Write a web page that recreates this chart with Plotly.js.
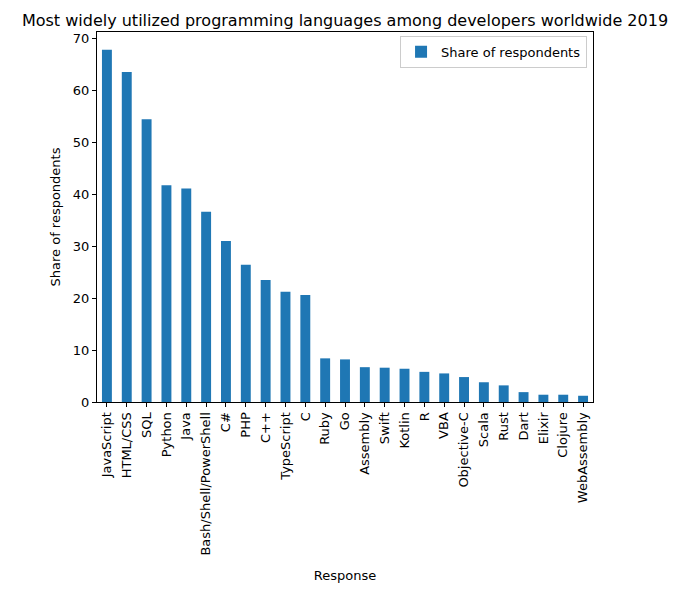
<!DOCTYPE html>
<html>
<head>
<meta charset="utf-8">
<script src="https://cdn.plot.ly/plotly-3.0.1.min.js"></script>
<style>html,body{margin:0;padding:0;background:#fff;}#chart{width:690px;height:594px;}</style>
</head>
<body>
<div id="chart"></div>
<script>
const languages = ["JavaScript","HTML/CSS","SQL","Python","Java","Bash/Shell/PowerShell","C#","PHP","C++","TypeScript","C","Ruby","Go","Assembly","Swift","Kotlin","R","VBA","Objective-C","Scala","Rust","Dart","Elixir","Clojure","WebAssembly"];
const shares = [67.8,63.5,54.4,41.7,41.1,36.6,31.0,26.4,23.5,21.2,20.6,8.4,8.2,6.7,6.6,6.4,5.8,5.5,4.8,3.8,3.2,1.9,1.4,1.4,1.2];
const yTicks = [0,10,20,30,40,50,60,70];

const font = {family: "DejaVu Sans, sans-serif", size: 13, color: "#000"};
Plotly.newPlot("chart", [{
  type: "bar",
  x: languages,
  y: shares,
  name: "Share of respondents",
  marker: {color: "#1f77b4"},
  width: 0.5,
  showlegend: true
}], {
  width: 690, height: 594,
  margin: {l: 97, r: 97, t: 32, b: 192, pad: 0},
  paper_bgcolor: "#fff", plot_bgcolor: "#fff",
  font: font,
  title: {text: "Most widely utilized programming languages among developers worldwide 2019",
          font: {family: "DejaVu Sans, sans-serif", size: 16, color: "#000"},
          x: 0.5, xanchor: "center", y: 0.966, yanchor: "middle"},
  xaxis: {
    type: "category", range: [-0.5, 24.5],
    tickangle: -90, ticks: "outside", ticklen: 4, tickcolor: "#000",
    showline: true, linecolor: "#000", linewidth: 1, mirror: true,
    showgrid: false, zeroline: false,
    tickfont: font,
    title: {text: "Response", font: font, standoff: 16}
  },
  yaxis: {
    range: [0, 71.2], tickvals: yTicks, ticks: "outside", ticklen: 4, tickcolor: "#000",
    showline: true, linecolor: "#000", linewidth: 1, mirror: true,
    showgrid: false, zeroline: false,
    tickfont: font,
    title: {text: "Share of respondents", font: font, standoff: 9}
  },
  legend: {x: 0.988, y: 0.99, xanchor: "right", yanchor: "top",
           bordercolor: "#ccc", borderwidth: 1, bgcolor: "rgba(255,255,255,0.8)",
           font: font, tracegroupgap: 0},
  bargap: 0.5
}, {displayModeBar: false});
</script>
</body>
</html>
